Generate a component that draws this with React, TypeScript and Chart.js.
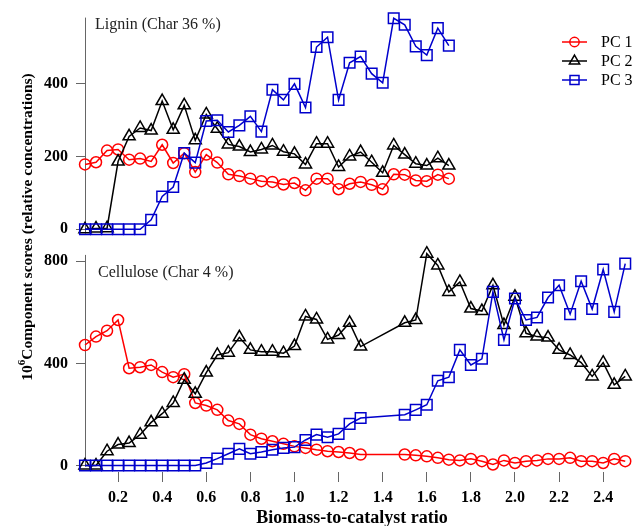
import { useEffect, useRef } from 'react';
import { Chart, registerables } from 'chart.js';
import * as helpers from 'chart.js/helpers';

Chart.register(...registerables);

const SERIF = '"Liberation Serif", "Times New Roman", Times, serif';

// Lignin panel (Char 36 %)
const ligninRatio = [
  0.05, 0.1, 0.15, 0.2, 0.25, 0.3, 0.35, 0.4, 0.45, 0.5, 0.55, 0.6, 0.65, 0.7, 0.75, 0.8, 0.85,
  0.9, 0.95, 1.0, 1.05, 1.1, 1.15, 1.2, 1.25, 1.3, 1.35, 1.4, 1.45, 1.5, 1.55, 1.6, 1.65, 1.7,
];
const ligninPC1 = [
  178, 184, 216, 219, 191, 194, 186, 232, 182, 209, 157, 205, 183, 151, 146, 139, 132,
  130, 123, 127, 107, 139, 139, 110, 125, 130, 122, 110, 151, 150, 134, 132, 150, 139,
];
const ligninPC2 = [
  0, 2, 3, 186, 255, 278, 271, 352, 273, 340, 244, 315, 276, 233, 227, 212, 219,
  230, 213, 207, 178, 235, 235, 171, 200, 212, 184, 155, 230, 205, 180, 175, 195, 175,
];
const ligninPC3 = [
  0, 0, 0, 0, 0, 0, 26, 90, 116, 209, 183, 297, 299, 267, 285, 310, 268,
  383, 355, 399, 334, 500, 527, 355, 457, 474, 427, 402, 579, 561, 502, 478, 552, 504,
];

// Cellulose panel (Char 4 %)
const celluloseRatio = [
  0.05, 0.1, 0.15, 0.2, 0.25, 0.3, 0.35, 0.4, 0.45, 0.5, 0.55, 0.6, 0.65, 0.7, 0.75, 0.8, 0.85,
  0.9, 0.95, 1.0, 1.05, 1.1, 1.15, 1.2, 1.25, 1.3,
  1.5, 1.55, 1.6, 1.65, 1.7, 1.75, 1.8, 1.85, 1.9, 1.95, 2.0, 2.05, 2.1, 2.15, 2.2, 2.25, 2.3,
  2.35, 2.4, 2.45, 2.5,
];
const cellulosePC1 = [
  472, 505, 528, 570, 381, 385, 394, 366, 346, 358, 245, 235, 218, 176, 163, 121, 105,
  95, 85, 75, 69, 62, 56, 53, 49, 43,
  43, 40, 36, 30, 23, 20, 26, 17, 4, 20, 10, 17, 20, 26, 26, 30, 17,
  17, 10, 26, 17,
];
const cellulosePC2 = [
  0, 0, 56, 82, 88, 121, 169, 203, 245, 336, 281, 364, 433, 442, 502, 453, 446,
  446, 440, 468, 584, 572, 494, 511, 559, 466,
  559, 570, 830, 784, 680, 719, 615, 605, 706, 550, 661, 518, 505, 501, 453, 433, 403,
  349, 403, 316, 349,
];
const cellulosePC3 = [
  0, 0, 0, 0, 0, 0, 0, 0, 0, 0, 0, 10, 27, 46, 65, 46, 53,
  62, 69, 72, 100, 121, 111, 124, 163, 186,
  199, 218, 238, 332, 346, 453, 394, 418, 680, 492, 654, 570, 580, 658, 706, 593, 722,
  613, 768, 602, 791,
];

const ratioTicks = [0.2, 0.4, 0.6, 0.8, 1.0, 1.2, 1.4, 1.6, 1.8, 2.0, 2.2, 2.4];
const ligninTicks = [0, 200, 400];
const celluloseTicks = [0, 400, 800];

const seriesNames = ['PC 1', 'PC 2', 'PC 3'];
const seriesColors = ['#ff0000', '#000000', '#0000cc'];
const seriesMarkers = ['circle', 'triangle', 'rect'];
const markerRadius = [5.5, 7, 7.5];

const ligninTitle = 'Lignin (Char 36 %)';
const celluloseTitle = 'Cellulose (Char 4 %)';
const xTitle = 'Biomass-to-catalyst ratio';
const yTitleMain = 'Component scores (relative concentrations)';

const pairs = (xs: number[], ys: number[]) => xs.map((x, i) => ({ x, y: ys[i] }));

function series(idx: number, xs: number[], ys: number[], axis: string) {
  return {
    label: seriesNames[idx],
    data: pairs(xs, ys),
    yAxisID: axis,
    order: 2 - idx,
    borderColor: seriesColors[idx],
    borderWidth: 1.5,
    tension: 0,
    fill: false,
    pointStyle: seriesMarkers[idx],
    pointRadius: markerRadius[idx],
    pointBorderColor: seriesColors[idx],
    pointBackgroundColor: 'rgba(255,255,255,0)',
    pointBorderWidth: 1.5,
    clip: false,
  };
}

const decorations = {
  id: 'decorations',
  beforeDatasetsDraw(chart: any) {
    const { ctx, scales, chartArea } = chart;
    const yT = scales.yTop;
    const yB = scales.yBot;
    const x = Math.round(chartArea.left) + 0.5;
    ctx.save();
    ctx.strokeStyle = '#666';
    ctx.lineWidth = 1;
    ctx.beginPath();
    ctx.moveTo(x, yT.top);
    ctx.lineTo(x, yT.getPixelForValue(-12));
    ctx.moveTo(x, yB.getPixelForValue(825));
    ctx.lineTo(x, yB.getPixelForValue(-4));
    ctx.stroke();
    ctx.restore();
  },
  afterDraw(chart: any) {
    const { ctx, scales, chartArea } = chart;
    const yT = scales.yTop;
    const yB = scales.yBot;
    ctx.save();
    ctx.fillStyle = '#222';
    ctx.textAlign = 'left';
    ctx.textBaseline = 'middle';
    ctx.font = `16px ${SERIF}`;
    ctx.fillText(ligninTitle, 95, yT.top + 7);
    ctx.fillText(celluloseTitle, 98, yB.top + 28);

    // legend
    const lx0 = 562;
    const lx1 = 587;
    const rowY = [42, 61, 80];
    seriesNames.forEach((name, i) => {
      const y = rowY[i];
      ctx.strokeStyle = seriesColors[i];
      ctx.lineWidth = 1.5;
      ctx.beginPath();
      ctx.moveTo(lx0, y);
      ctx.lineTo(lx1, y);
      ctx.stroke();
      ctx.fillStyle = 'rgba(255,255,255,0)';
      helpers.drawPoint(ctx, { pointStyle: seriesMarkers[i], radius: markerRadius[i] * 0.85, rotation: 0, borderWidth: 1.5 }, (lx0 + lx1) / 2, y);
      ctx.fillStyle = '#000';
      ctx.font = `16px ${SERIF}`;
      ctx.fillText(name, 601, y + 1);
    });

    // x axis title
    ctx.fillStyle = '#000';
    ctx.textAlign = 'center';
    ctx.textBaseline = 'middle';
    ctx.font = `bold 18px ${SERIF}`;
    ctx.fillText(xTitle, chartArea.left + 267, 518);

    // rotated y title with superscript exponent
    ctx.textAlign = 'left';
    ctx.translate(27, 227);
    ctx.rotate(-Math.PI / 2);
    const big = `bold 15.5px ${SERIF}`;
    const small = `bold 11px ${SERIF}`;
    ctx.font = big;
    const w10 = ctx.measureText('10').width;
    const wMain = ctx.measureText(yTitleMain).width;
    ctx.font = small;
    const w6 = ctx.measureText('6').width;
    let cx = -(w10 + w6 + wMain) / 2;
    ctx.fillStyle = '#000';
    ctx.textBaseline = 'alphabetic';
    ctx.font = big;
    ctx.fillText('10', cx, 5);
    cx += w10;
    ctx.font = small;
    ctx.fillText('6', cx, -2);
    cx += w6;
    ctx.font = big;
    ctx.fillText(yTitleMain, cx, 5);
    ctx.restore();
  },
};

export default function App() {
  const ref = useRef<HTMLCanvasElement>(null);
  useEffect(() => {
    document.body.style.margin = '0';
    const tickFont = { family: SERIF, size: 16, weight: 'bold' as const };
    const chart = new Chart(ref.current!, {
      type: 'line',
      data: {
        datasets: [
          series(0, ligninRatio, ligninPC1, 'yTop'),
          series(1, ligninRatio, ligninPC2, 'yTop'),
          series(2, ligninRatio, ligninPC3, 'yTop'),
          series(0, celluloseRatio, cellulosePC1, 'yBot'),
          series(1, celluloseRatio, cellulosePC2, 'yBot'),
          series(2, celluloseRatio, cellulosePC3, 'yBot'),
        ] as any,
      },
      options: {
        responsive: false,
        animation: false,
        events: [],
        layout: { padding: { top: 17, left: 0, right: 0, bottom: 0 } },
        plugins: { legend: { display: false }, tooltip: { enabled: false } },
        scales: {
          x: {
            type: 'linear',
            min: 0.05,
            max: 2.508,
            afterBuildTicks: (s: any) => {
              s.ticks = ratioTicks.map((v) => ({ value: v }));
            },
            afterFit: (s: any) => {
              s.height = 54;
            },
            border: { display: false },
            grid: { drawOnChartArea: false, drawTicks: true, tickLength: 10, color: '#666', lineWidth: 1 },
            ticks: {
              font: tickFont,
              color: '#000',
              padding: 6,
              maxRotation: 0,
              autoSkip: false,
              callback: (v: any) => Number(v).toFixed(1),
            },
            title: { display: false },
          },
          yBot: {
            type: 'linear',
            position: 'left',
            stack: 'panels',
            stackWeight: 1,
            weight: 1,
            min: -25.4,
            max: 864.6,
            afterBuildTicks: (s: any) => {
              s.ticks = celluloseTicks.map((v) => ({ value: v }));
            },
            afterFit: (s: any) => {
              s.width = 85;
            },
            border: { display: false },
            grid: { drawOnChartArea: false, drawTicks: true, tickLength: 9, color: '#666', lineWidth: 1 },
            ticks: { font: tickFont, color: '#000', padding: 8, callback: (v: any) => String(v) },
          },
          yTop: {
            type: 'linear',
            position: 'left',
            stack: 'panels',
            stackWeight: 1,
            weight: 2,
            min: -42.5,
            max: 580.8,
            afterBuildTicks: (s: any) => {
              s.ticks = ligninTicks.map((v) => ({ value: v }));
            },
            afterFit: (s: any) => {
              s.width = 85;
            },
            border: { display: false },
            grid: { drawOnChartArea: false, drawTicks: true, tickLength: 9, color: '#666', lineWidth: 1 },
            ticks: { font: tickFont, color: '#000', padding: 8, callback: (v: any) => String(v) },
          },
        },
      } as any,
      plugins: [decorations],
    });
    return () => chart.destroy();
  }, []);
  return (
    <div style={{ position: 'absolute', left: 0, top: 0, width: 636, height: 526, background: '#fff' }}>
      <canvas ref={ref} width={636} height={526} style={{ display: 'block', width: 636, height: 526 }} />
    </div>
  );
}
